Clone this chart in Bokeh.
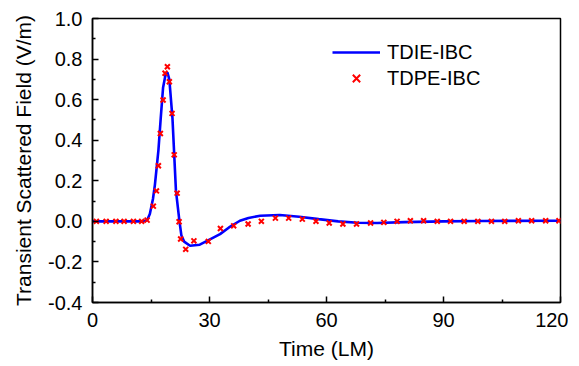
from bokeh.plotting import figure
from bokeh.models import Range1d, FixedTicker, PrintfTickFormatter, Legend, LegendItem
from bokeh.embed import file_html
from bokeh.resources import INLINE

# TDIE-IBC (solid blue line)
line_t = [0, 13, 14, 14.7, 15.5, 16, 16.9, 17.5, 18.1, 18.7, 19.2, 19.7, 20.5, 21.4,
          22.3, 22.8, 23.5, 25, 27.5, 30, 32.7, 35, 37.8, 40, 43, 48, 53, 58, 63,
          68, 73, 80, 90, 100, 120]
line_v = [0, 0, 0.005, 0.036, 0.11, 0.18, 0.35, 0.51, 0.66, 0.72, 0.735, 0.70, 0.51,
          0.15, 0.0, -0.07, -0.10, -0.12, -0.115, -0.09, -0.063, -0.03, 0.003, 0.017,
          0.028, 0.031, 0.023, 0.011, 0.0, -0.007, -0.008, -0.004, 0.0, 0.002, 0.003]

# TDPE-IBC (red x markers)
mark_t = [1.0, 3.5, 6.0, 8.1, 10.5, 12.6, 14.0, 15.6, 16.4, 16.9, 17.4, 18.1, 18.6,
          19.2, 19.7, 20.4, 20.95, 21.7, 22.2, 22.6, 23.9, 26.0, 29.7, 32.8, 36.2,
          39.9, 43.3, 46.9, 50.3, 53.8, 57.3, 60.7, 64.2, 67.7, 71.3, 74.7, 78.1,
          81.5, 84.9, 88.4, 91.8, 95.3, 98.8, 102.3, 105.7, 109.2, 112.6, 116.2, 119.6]
mark_v = [0, 0, 0, 0, 0, 0, 0.006, 0.075, 0.15, 0.274, 0.433, 0.598, 0.73, 0.762,
          0.688, 0.532, 0.328, 0.139, -0.002, -0.087, -0.138, -0.096, -0.099, -0.035,
          -0.022, -0.013, 0.0, 0.016, 0.016, 0.011, 0.0, -0.008, -0.013, -0.013,
          -0.008, -0.005, 0.0, 0.003, 0.003, 0.0, 0.0, 0.0, 0.0, 0.0, 0.0, 0.003,
          0.003, 0.003, 0.003]

x_ticks = [0, 30, 60, 90, 120]
x_minor = [15, 45, 75, 105]
y_ticks = [-0.4, -0.2, 0.0, 0.2, 0.4, 0.6, 0.8, 1.0]
y_minor = [-0.3, -0.1, 0.1, 0.3, 0.5, 0.7, 0.9]

FONT = "Liberation Sans"

p = figure(frame_width=468, frame_height=284, output_backend="svg",
           toolbar_location=None, x_range=Range1d(0, 120), y_range=Range1d(-0.4, 1.0),
           min_border_left=92, min_border_top=18, min_border_right=8,
           min_border_bottom=56, background_fill_color="white",
           border_fill_color="white")
p.outline_line_color = "black"
p.outline_line_width = 1.5
p.grid.visible = False

p.xaxis.ticker = FixedTicker(ticks=x_ticks, minor_ticks=x_minor)
p.yaxis.ticker = FixedTicker(ticks=y_ticks, minor_ticks=y_minor)
p.yaxis.formatter = PrintfTickFormatter(format="%.1f")
p.xaxis.axis_label = "Time (LM)"
p.yaxis.axis_label = "Transient Scattered Field (V/m)"
for ax in (p.xaxis, p.yaxis):
    ax.axis_line_width = 1.5
    ax.axis_line_color = "black"
    ax.major_tick_in = 6
    ax.major_tick_out = 0
    ax.minor_tick_in = 3
    ax.minor_tick_out = 0
    ax.major_tick_line_color = "black"
    ax.minor_tick_line_color = "black"
    ax.major_tick_line_width = 1.5
    ax.minor_tick_line_width = 1.5
    ax.major_label_text_font = FONT
    ax.major_label_text_font_size = "20px"
    ax.major_label_text_color = "black"
    ax.axis_label_text_font = FONT
    ax.axis_label_text_font_size = "21px"
    ax.axis_label_text_font_style = "normal"
    ax.axis_label_text_color = "black"
    ax.major_label_standoff = 10
p.xaxis.axis_label_standoff = 7
p.yaxis.axis_label_standoff = 10

ln = p.line(line_t, line_v, line_color="#0000ff", line_width=2.6)
mk = p.scatter(mark_t, mark_v, marker="x", size=7, line_color="#ff0000", line_width=2)

legend = Legend(items=[LegendItem(label="TDIE-IBC", renderers=[ln]),
                       LegendItem(label="TDPE-IBC", renderers=[mk])],
                location=(240, 211), border_line_color=None,
                background_fill_alpha=0, padding=0, margin=0, spacing=0,
                glyph_width=48, glyph_height=26, label_standoff=7,
                label_text_font=FONT, label_text_font_size="20px",
                label_text_color="black")
p.add_layout(legend)

open("out.html", "w").write(file_html(p, INLINE))
